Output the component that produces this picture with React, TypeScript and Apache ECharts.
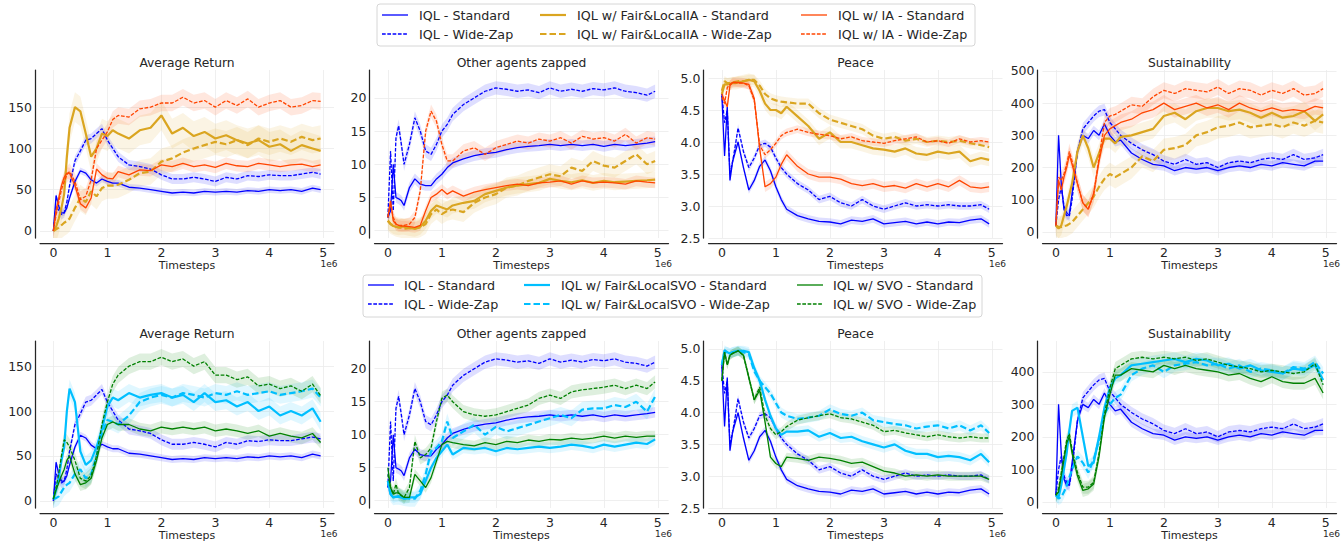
import React, { useEffect, useRef } from "react";
import * as echarts from "echarts";

// ---------- data (timesteps in units of 1e6) ----------
const TIMESTEPS = [0, 0.05, 0.1, 0.15, 0.2, 0.25, 0.3, 0.4, 0.5, 0.6, 0.7, 0.8, 0.9, 1.0, 1.1, 1.2, 1.4, 1.6, 1.8, 2.0, 2.2, 2.4, 2.6, 2.8, 3.0, 3.2, 3.4, 3.6, 3.8, 4.0, 4.2, 4.4, 4.6, 4.8, 4.95];
const X_TICKS = [0, 1, 2, 3, 4, 5];

// Average Return
const returnIqlStd = [0, 43, 30, 22, 22, 28, 40, 60, 73, 70, 62, 58, 63, 60, 58, 58, 53, 52, 50, 48, 46, 47, 46, 48, 47, 48, 47, 49, 48, 50, 49, 50, 48, 52, 50];
const returnIqlWz = [0, 30, 25, 20, 22, 35, 55, 85, 97, 110, 112, 118, 124, 110, 100, 90, 80, 78, 75, 68, 63, 63, 65, 63, 60, 65, 63, 67, 66, 68, 67, 67, 69, 71, 69];
const returnFairIaStd = [0, 5, 15, 28, 45, 90, 125, 150, 145, 118, 90, 100, 118, 115, 122, 118, 112, 122, 125, 140, 118, 125, 115, 120, 112, 116, 110, 106, 110, 102, 105, 97, 104, 100, 97];
const returnFairIaWz = [0, 2, 4, 7, 10, 12, 15, 28, 40, 35, 48, 42, 52, 55, 55, 56, 62, 70, 72, 84, 88, 95, 100, 104, 108, 105, 110, 104, 112, 108, 112, 108, 114, 110, 112];
const returnIaStd = [0, 25, 40, 55, 65, 70, 70, 55, 33, 28, 40, 75, 68, 64, 63, 72, 68, 74, 73, 80, 78, 82, 78, 80, 77, 82, 79, 78, 82, 80, 78, 80, 81, 78, 80];
const returnIaWz = [0, 20, 35, 50, 60, 68, 72, 60, 38, 42, 62, 100, 110, 120, 135, 140, 138, 148, 150, 155, 155, 162, 155, 158, 150, 158, 152, 160, 150, 155, 158, 150, 152, 158, 157];
const returnFairSvoStd = [2, 12, 25, 45, 60, 100, 125, 110, 55, 40, 45, 60, 80, 105, 115, 112, 120, 115, 118, 120, 115, 118, 110, 120, 110, 112, 105, 110, 100, 105, 95, 100, 95, 103, 88];
const returnFairSvoWz = [2, 3, 5, 10, 15, 18, 20, 30, 35, 25, 30, 50, 75, 90, 88, 85, 95, 110, 115, 118, 115, 120, 118, 115, 120, 118, 122, 118, 120, 122, 118, 120, 122, 125, 115];
const returnSvoStd = [2, 12, 20, 28, 35, 45, 50, 30, 18, 20, 25, 45, 70, 85, 88, 85, 85, 80, 78, 82, 80, 82, 80, 82, 78, 80, 78, 75, 78, 72, 75, 72, 70, 75, 65];
const returnSvoWz = [2, 15, 30, 50, 68, 65, 60, 45, 25, 22, 28, 50, 85, 110, 130, 140, 150, 155, 155, 160, 155, 158, 150, 155, 140, 140, 135, 138, 128, 130, 125, 128, 122, 130, 117];

// Other agents zapped
const zapIqlStd = [2, 3, 10, 5, 4.8, 4.5, 3.8, 6.5, 7.8, 7.0, 6.8, 6.8, 7.8, 8.5, 9.5, 10.2, 10.8, 11.3, 11.6, 11.8, 12.2, 12.5, 12.7, 12.8, 13.0, 12.8, 13.0, 12.8, 13.0, 12.7, 13.0, 12.8, 13.0, 13.2, 13.4];
const zapIqlWz = [2, 12, 3, 14, 15.8, 13, 10, 13, 17, 15, 12, 11.5, 13, 15, 16, 17.5, 19, 20, 21, 21.5, 21.3, 21.0, 21.2, 20.8, 21.5, 21.0, 21.3, 21.0, 21.4, 21.2, 21.5, 21.0, 20.8, 20.4, 21.0];
const zapFairIaStd = [1.5, 1.0, 0.7, 0.6, 0.5, 0.6, 0.6, 0.4, 0.3, 0.6, 1.5, 3.0, 3.8, 3.5, 3.2, 3.8, 4.2, 4.5, 5.5, 6.0, 6.5, 6.8, 7.0, 7.2, 7.8, 7.5, 7.3, 7.6, 7.2, 7.5, 7.3, 7.4, 7.5, 7.6, 7.7];
const zapFairIaWz = [1.5, 1.0, 0.8, 0.6, 0.5, 0.4, 0.3, 0.4, 0.3, 0.5, 1.0, 2.5, 3.2, 2.5, 3.0, 3.2, 2.8, 4.2, 5.0, 5.5, 6.5, 6.8, 7.5, 8.0, 8.5, 8.2, 9.5, 9.0, 10.5, 9.8, 9.5, 10.5, 11.5, 10.0, 10.5];
const zapIaStd = [2, 4.5, 1.5, 1.0, 0.8, 0.7, 0.7, 0.6, 0.5, 0.8, 3.0, 5.0, 5.5, 6.2, 5.5, 6.0, 5.2, 5.8, 6.2, 6.5, 6.8, 7.0, 6.8, 7.2, 7.3, 7.5, 7.0, 7.5, 7.2, 7.3, 7.2, 7.0, 7.5, 7.3, 7.2];
const zapIaWz = [2, 4, 2, 1.0, 0.8, 0.8, 0.8, 1.0, 2.0, 6.0, 15, 18, 16.5, 13, 10.5, 10.5, 12, 12.5, 11.5, 12.5, 13, 13.5, 13.2, 13.8, 13.5, 14, 13.2, 14.2, 13.8, 14, 13.5, 14.5, 13.2, 14.0, 13.8];
const zapFairSvoStd = [3, 1.0, 0.5, 0.6, 0.7, 0.5, 0.3, 0.5, 0.5, 1.0, 3.0, 5.0, 6.5, 7.5, 8.5, 7.0, 8.0, 7.8, 8.0, 7.5, 8.0, 7.8, 8.0, 8.2, 8.0, 8.2, 8.5, 8.3, 8.0, 8.5, 8.2, 8.5, 8.8, 8.6, 9.3];
const zapFairSvoWz = [3, 1.0, 0.5, 0.6, 0.6, 0.5, 0.4, 0.3, 0.3, 1.5, 4.0, 7.5, 8.0, 9.0, 12, 9.5, 10.5, 11.5, 10.0, 11.2, 10.5, 11.0, 11.5, 12.0, 12.5, 13.0, 12.5, 13.8, 14.0, 14.0, 14.5, 14.2, 15.0, 13.5, 15.8];
const zapSvoStd = [5, 2, 1.0, 1.2, 1.2, 0.8, 0.5, 0.5, 4.0, 3.0, 2.0, 3.5, 6.0, 8.5, 9.0, 8.8, 8.5, 8.3, 8.8, 8.5, 9.0, 8.8, 9.2, 9.0, 9.3, 9.2, 9.5, 9.3, 9.5, 9.8, 9.5, 9.8, 9.6, 9.8, 9.8];
const zapSvoWz = [4, 2, 1.0, 2.5, 1.0, 0.8, 0.5, 2.0, 9.0, 6.5, 7.0, 8.0, 12, 15.5, 16, 15, 13.5, 13, 12.8, 13, 13.5, 14, 14.5, 15.5, 16, 15.5, 16.5, 16.8, 17, 17.2, 17.5, 17, 17.5, 17, 18];

// Peace
const peaceIqlStd = [4.72, 3.78, 4.55, 3.4, 3.7, 3.85, 4.0, 3.6, 3.25, 3.4, 3.62, 3.72, 3.55, 3.3, 3.1, 2.95, 2.85, 2.8, 2.76, 2.75, 2.72, 2.78, 2.76, 2.8, 2.72, 2.74, 2.76, 2.72, 2.75, 2.72, 2.75, 2.74, 2.78, 2.8, 2.72];
const peaceIqlWz = [4.75, 4.3, 4.5, 3.5, 3.7, 3.95, 4.22, 3.85, 3.6, 3.75, 3.95, 3.98, 3.92, 3.75, 3.6, 3.5, 3.35, 3.25, 3.1, 3.15, 3.05, 3.0, 3.1, 3.0, 2.95, 3.0, 3.05, 3.0, 3.02, 3.0, 3.02, 3.0, 3.0, 3.02, 2.95];
const peaceFairIaStd = [4.75, 4.9, 4.9, 4.91, 4.92, 4.92, 4.93, 4.95, 4.97, 4.95, 4.8, 4.6, 4.5, 4.5, 4.45, 4.55, 4.4, 4.25, 4.05, 4.15, 4.0, 4.0, 3.95, 3.9, 3.88, 3.85, 3.9, 3.82, 3.8, 3.85, 3.82, 3.85, 3.7, 3.75, 3.72];
const peaceFairIaWz = [4.8, 4.95, 4.92, 4.92, 4.93, 4.94, 4.95, 4.95, 4.97, 4.97, 4.88, 4.75, 4.68, 4.65, 4.63, 4.62, 4.6, 4.6, 4.45, 4.35, 4.3, 4.25, 4.2, 4.1, 4.05, 4.08, 4.02, 4.05, 4.0, 4.02, 4.0, 4.02, 3.98, 3.95, 3.92];
const peaceIaStd = [4.75, 4.65, 4.55, 4.88, 4.93, 4.93, 4.93, 4.92, 4.9, 4.68, 3.9, 3.3, 3.35, 3.45, 3.65, 3.8, 3.62, 3.5, 3.45, 3.45, 3.42, 3.35, 3.32, 3.35, 3.3, 3.32, 3.28, 3.35, 3.3, 3.35, 3.3, 3.4, 3.3, 3.28, 3.3];
const peaceIaWz = [4.7, 4.6, 4.85, 4.9, 4.93, 4.93, 4.92, 4.92, 4.88, 4.65, 3.95, 3.8, 3.88, 3.98, 4.1, 4.15, 4.2, 4.15, 4.12, 4.1, 4.05, 4.08, 4.02, 4.0, 3.98, 4.02, 4.05, 4.08, 4.0, 4.02, 3.98, 4.05, 4.0, 4.02, 4.0];
const peaceFairSvoStd = [4.75, 4.98, 4.95, 4.93, 4.95, 4.96, 4.97, 4.97, 4.95, 4.7, 4.5, 4.2, 3.95, 3.75, 3.65, 3.7, 3.7, 3.72, 3.62, 3.68, 3.6, 3.62, 3.55, 3.5, 3.45, 3.5, 3.4, 3.35, 3.35, 3.3, 3.32, 3.3, 3.25, 3.35, 3.22];
const peaceFairSvoWz = [4.75, 4.95, 4.95, 4.93, 4.95, 4.96, 4.97, 4.95, 4.92, 4.65, 4.5, 4.4, 4.3, 4.15, 4.0, 3.95, 3.9, 3.92, 3.95, 4.05, 3.98, 3.95, 4.0, 3.88, 3.85, 3.82, 3.8, 3.75, 3.78, 3.8, 3.75, 3.8, 3.72, 3.8, 3.68];
const peaceSvoStd = [4.5, 4.95, 4.75, 4.9, 4.93, 4.95, 4.97, 4.9, 4.55, 4.2, 4.35, 3.85, 3.3, 3.2, 3.15, 3.3, 3.28, 3.25, 3.3, 3.28, 3.25, 3.2, 3.22, 3.15, 3.08, 3.05, 3.0, 3.02, 3.0, 3.02, 3.0, 3.0, 3.0, 3.0, 2.95];
const peaceSvoWz = [4.5, 4.95, 4.75, 4.9, 4.93, 4.95, 4.97, 4.9, 4.55, 4.2, 4.4, 3.95, 3.75, 3.65, 3.7, 3.78, 3.88, 3.92, 3.95, 3.98, 3.92, 3.9, 3.85, 3.8, 3.7, 3.72, 3.68, 3.65, 3.62, 3.65, 3.62, 3.6, 3.62, 3.6, 3.6];

// Sustainability
const susIqlStd = [20, 300, 150, 70, 50, 55, 120, 250, 300, 290, 315, 300, 335, 300, 280, 285, 245, 225, 210, 205, 190, 200, 195, 200, 190, 200, 205, 200, 210, 205, 215, 210, 205, 220, 220];
const susIqlWz = [20, 100, 140, 80, 60, 50, 100, 250, 320, 340, 360, 375, 380, 340, 320, 300, 275, 255, 240, 220, 210, 225, 210, 215, 200, 215, 220, 215, 225, 230, 225, 240, 225, 230, 240];
const susFairIaStd = [20, 10, 20, 50, 80, 115, 150, 250, 300, 260, 200, 245, 290, 290, 275, 295, 300, 310, 320, 360, 370, 350, 375, 385, 385, 375, 380, 370, 355, 370, 355, 360, 375, 345, 365];
const susFairIaWz = [20, 15, 15, 18, 20, 25, 30, 50, 70, 90, 110, 140, 165, 180, 170, 180, 200, 235, 220, 255, 260, 270, 300, 310, 325, 330, 340, 325, 330, 335, 325, 340, 330, 345, 340];
const susIaStd = [20, 160, 130, 170, 200, 240, 210, 150, 90, 70, 120, 220, 300, 320, 330, 340, 350, 370, 380, 400, 380, 390, 400, 385, 395, 380, 400, 385, 375, 385, 375, 380, 375, 390, 385];
const susIaWz = [20, 170, 160, 180, 210, 250, 220, 150, 90, 72, 115, 230, 340, 360, 365, 375, 395, 390, 420, 440, 430, 445, 440, 435, 450, 430, 445, 440, 425, 440, 430, 445, 425, 430, 445];
const susFairSvoStd = [20, 15, 50, 100, 150, 220, 280, 290, 200, 110, 120, 200, 290, 350, 380, 390, 420, 425, 430, 435, 440, 430, 440, 435, 420, 425, 410, 420, 405, 400, 395, 410, 405, 420, 375];
const susFairSvoWz = [20, 10, 15, 30, 50, 75, 100, 140, 120, 90, 130, 190, 270, 300, 320, 330, 390, 410, 420, 400, 420, 425, 430, 420, 425, 410, 420, 400, 410, 405, 395, 415, 410, 430, 395];
const susSvoStd = [20, 30, 80, 130, 180, 200, 150, 80, 35, 40, 55, 140, 260, 330, 390, 390, 410, 405, 400, 420, 410, 420, 410, 405, 400, 390, 395, 380, 370, 385, 370, 365, 365, 380, 335];
const susSvoWz = [20, 40, 90, 140, 190, 210, 160, 90, 45, 45, 60, 150, 270, 350, 410, 420, 440, 445, 440, 445, 440, 445, 435, 440, 430, 420, 415, 410, 400, 405, 400, 395, 400, 425, 360];

// half-width of the shaded bands (spread across seeds)
const returnSpread = { iqlStd: 4, iqlWz: 6, fairIaStd: 18, fairIaWz: 16, iaStd: 7, iaWz: 10, fairSvoStd: 10, fairSvoWz: 10, svoStd: 7, svoWz: 9 };
const zapSpread = { iqlStd: 0.8, iqlWz: 1.0, fairIaStd: 1.2, fairIaWz: 1.5, iaStd: 0.8, iaWz: 1.0, fairSvoStd: 0.8, fairSvoWz: 1.2, svoStd: 0.8, svoWz: 1.0 };
const peaceSpread = { iqlStd: 0.06, iqlWz: 0.06, fairIaStd: 0.1, fairIaWz: 0.08, iaStd: 0.08, iaWz: 0.06, fairSvoStd: 0.08, fairSvoWz: 0.08, svoStd: 0.07, svoWz: 0.07 };
const susSpread = { iqlStd: 15, iqlWz: 18, fairIaStd: 30, fairIaWz: 35, iaStd: 25, iaWz: 25, fairSvoStd: 20, fairSvoWz: 20, svoStd: 20, svoWz: 20 };

const returnTicks = [0, 50, 100, 150];
const zapTicks = [0, 5, 10, 15, 20];
const peaceTicks = [2.5, 3.0, 3.5, 4.0, 4.5, 5.0];
const susTicksTop = [0, 100, 200, 300, 400, 500];
const susTicksBottom = [0, 100, 200, 300, 400];

const LABELS: Record<string, string> = {
  iqlStd: "IQL - Standard",
  iqlWz: "IQL - Wide-Zap",
  fairIaStd: "IQL w/ Fair&LocalIA - Standard",
  fairIaWz: "IQL w/ Fair&LocalIA - Wide-Zap",
  iaStd: "IQL w/ IA - Standard",
  iaWz: "IQL w/ IA - Wide-Zap",
  fairSvoStd: "IQL w/ Fair&LocalSVO - Standard",
  fairSvoWz: "IQL w/ Fair&LocalSVO - Wide-Zap",
  svoStd: "IQL w/ SVO - Standard",
  svoWz: "IQL w/ SVO - Wide-Zap",
};

// ---------- styles ----------
const FONT = "DejaVu Sans";
const INK = "#262626";
const THIN = 1.3;
const THICK = 2.2;
const SHORT_DASH = [3.7, 1.6];
const LONG_DASH = [6.5, 3];
const STYLES: Record<string, { color: string; width: number; dash: number[] | null }> = {
  iqlStd: { color: "#0000ff", width: THIN, dash: null },
  iqlWz: { color: "#0000ff", width: THIN, dash: SHORT_DASH },
  fairIaStd: { color: "#daa520", width: THICK, dash: null },
  fairIaWz: { color: "#daa520", width: THICK, dash: LONG_DASH },
  iaStd: { color: "#ff4500", width: THIN, dash: null },
  iaWz: { color: "#ff4500", width: THIN, dash: SHORT_DASH },
  fairSvoStd: { color: "#00bfff", width: THICK, dash: null },
  fairSvoWz: { color: "#00bfff", width: THICK, dash: LONG_DASH },
  svoStd: { color: "#008000", width: THIN, dash: null },
  svoWz: { color: "#008000", width: THIN, dash: SHORT_DASH },
};

const TOP_KEYS = ["iqlStd", "iqlWz", "fairIaStd", "fairIaWz", "iaStd", "iaWz"];
const BOTTOM_KEYS = ["iqlStd", "iqlWz", "fairSvoStd", "fairSvoWz", "svoStd", "svoWz"];

const METRICS = [
  {
    title: "Average Return",
    spread: returnSpread,
    data: { iqlStd: returnIqlStd, iqlWz: returnIqlWz, fairIaStd: returnFairIaStd, fairIaWz: returnFairIaWz, iaStd: returnIaStd, iaWz: returnIaWz, fairSvoStd: returnFairSvoStd, fairSvoWz: returnFairSvoWz, svoStd: returnSvoStd, svoWz: returnSvoWz } as Record<string, number[]>,
  },
  {
    title: "Other agents zapped",
    spread: zapSpread,
    data: { iqlStd: zapIqlStd, iqlWz: zapIqlWz, fairIaStd: zapFairIaStd, fairIaWz: zapFairIaWz, iaStd: zapIaStd, iaWz: zapIaWz, fairSvoStd: zapFairSvoStd, fairSvoWz: zapFairSvoWz, svoStd: zapSvoStd, svoWz: zapSvoWz } as Record<string, number[]>,
  },
  {
    title: "Peace",
    spread: peaceSpread,
    data: { iqlStd: peaceIqlStd, iqlWz: peaceIqlWz, fairIaStd: peaceFairIaStd, fairIaWz: peaceFairIaWz, iaStd: peaceIaStd, iaWz: peaceIaWz, fairSvoStd: peaceFairSvoStd, fairSvoWz: peaceFairSvoWz, svoStd: peaceSvoStd, svoWz: peaceSvoWz } as Record<string, number[]>,
  },
  {
    title: "Sustainability",
    spread: susSpread,
    data: { iqlStd: susIqlStd, iqlWz: susIqlWz, fairIaStd: susFairIaStd, fairIaWz: susFairIaWz, iaStd: susIaStd, iaWz: susIaWz, fairSvoStd: susFairSvoStd, fairSvoWz: susFairSvoWz, svoStd: susSvoStd, svoWz: susSvoWz } as Record<string, number[]>,
  },
];

// ---------- layout ----------
const GRID_LEFTS = [40, 374.5, 708.5, 1042.5];
const GRID_W = 294;
const ROWS = [
  { top: 70, height: 168, keys: TOP_KEYS, yRanges: [[-8.5, 195], [-1.1, 24.2], [2.5, 5.125], [-19, 503]], yTicks: [returnTicks, zapTicks, peaceTicks, susTicksTop] },
  { top: 341, height: 167, keys: BOTTOM_KEYS, yRanges: [[-8, 178], [-1.1, 24.2], [2.5, 5.125], [-19, 495]], yTicks: [returnTicks, zapTicks, peaceTicks, susTicksBottom] },
];
const X_MIN = -0.2475;
const X_MAX = 5.1975;

const LEGENDS = [
  {
    box: [377, 4, 598, 42],
    rows: [15, 34],
    cols: [[382, 408, 419], [540, 566, 577], [801, 827, 838]],
    keys: [["iqlStd", "iqlWz"], ["fairIaStd", "fairIaWz"], ["iaStd", "iaWz"]],
  },
  {
    box: [363, 275, 619, 42],
    rows: [285, 304],
    cols: [[368, 394, 404], [524, 550, 561], [797, 823, 833]],
    keys: [["iqlStd", "iqlWz"], ["fairSvoStd", "fairSvoWz"], ["svoStd", "svoWz"]],
  },
];

function buildOption() {
  const grid: any[] = [];
  const xAxis: any[] = [];
  const yAxis: any[] = [];
  const series: any[] = [];
  const graphic: any[] = [];

  ROWS.forEach((row, r) => {
    METRICS.forEach((metric, c) => {
      const idx = r * 4 + c;
      const left = GRID_LEFTS[c];
      grid.push({ left, top: row.top, width: GRID_W, height: row.height, containLabel: false });
      xAxis.push({
        gridIndex: idx,
        type: "value",
        min: X_MIN,
        max: X_MAX,
        offset: 5,
        axisLine: { show: true, onZero: false, lineStyle: { color: INK, width: 1.25 } },
        axisTick: { show: false, customValues: X_TICKS },
        axisLabel: { customValues: X_TICKS, color: INK, fontSize: 12.5, fontFamily: FONT, margin: 3 },
        splitLine: { show: true, lineStyle: { color: "#ebebeb", width: 0.8 } },
        name: "Timesteps",
        nameLocation: "middle",
        nameGap: 16,
        nameTextStyle: { color: INK, fontSize: 11, fontFamily: FONT },
      });
      const ticks = row.yTicks[c];
      const isPeace = c === 2;
      yAxis.push({
        gridIndex: idx,
        type: "value",
        min: row.yRanges[c][0],
        max: row.yRanges[c][1],
        offset: 5,
        axisLine: { show: true, onZero: false, lineStyle: { color: INK, width: 1.25 } },
        axisTick: { show: false, customValues: ticks },
        axisLabel: {
          customValues: ticks,
          color: INK,
          fontSize: 12.5,
          fontFamily: FONT,
          margin: 3,
          formatter: (v: number) => (isPeace ? v.toFixed(1) : String(v)),
        },
        splitLine: { show: true, lineStyle: { color: "#ebebeb", width: 0.8 } },
      });

      // bands
      row.keys.forEach((key) => {
        const vals = metric.data[key];
        const s = (metric.spread as any)[key] as number;
        const st = STYLES[key];
        series.push({
          type: "custom",
          coordinateSystem: "cartesian2d",
          xAxisIndex: idx,
          yAxisIndex: idx,
          clip: true,
          silent: true,
          z: 1,
          data: [[TIMESTEPS[0], vals[0]]],
          renderItem: (params: any, api: any) => {
            const up = vals.map((v, i) => api.coord([TIMESTEPS[i], v + s]));
            const lo = vals.map((v, i) => api.coord([TIMESTEPS[i], v - s])).reverse();
            return {
              type: "polygon",
              shape: { points: up.concat(lo) },
              style: { fill: st.color, opacity: key.startsWith("fair") ? 0.12 : 0.13 },
            };
          },
        });
      });
      // lines
      row.keys.forEach((key) => {
        const vals = metric.data[key];
        const st = STYLES[key];
        series.push({
          type: "line",
          name: LABELS[key],
          xAxisIndex: idx,
          yAxisIndex: idx,
          data: TIMESTEPS.map((t, i) => [t, vals[i]]),
          showSymbol: false,
          symbol: "none",
          silent: true,
          z: 3,
          lineStyle: { color: st.color, width: st.width, type: st.dash ? st.dash : "solid" },
          emphasis: { disabled: true },
        });
      });

      // title and exponent
      graphic.push({
        type: "text",
        x: left + GRID_W / 2,
        y: row.top - 7,
        style: { text: metric.title, fill: INK, font: `12.3px "${FONT}"`, textAlign: "center", textVerticalAlign: "middle" },
      });
      graphic.push({
        type: "text",
        x: left + 289,
        y: row.top + row.height + 26,
        style: { text: "1e6", fill: INK, font: `9px "${FONT}"`, textAlign: "center", textVerticalAlign: "middle" },
      });
    });
  });

  // legends
  LEGENDS.forEach((lg) => {
    graphic.push({
      type: "rect",
      shape: { x: lg.box[0], y: lg.box[1], width: lg.box[2], height: lg.box[3], r: 3 },
      style: { fill: "#ffffff", stroke: "#d6d6d6", lineWidth: 1 },
      z: 10,
    });
    lg.cols.forEach((col, ci) => {
      lg.keys[ci].forEach((key, ri) => {
        const y = lg.rows[ri];
        const st = STYLES[key];
        graphic.push({
          type: "line",
          shape: { x1: col[0], y1: y, x2: col[1], y2: y },
          style: { stroke: st.color, lineWidth: st.width, lineDash: st.dash || undefined },
          z: 11,
        });
        graphic.push({
          type: "text",
          x: col[2],
          y,
          style: { text: LABELS[key], fill: INK, font: `12.7px "${FONT}"`, textAlign: "left", textVerticalAlign: "middle" },
          z: 11,
        });
      });
    });
  });

  return {
    animation: false,
    backgroundColor: "#ffffff",
    grid,
    xAxis,
    yAxis,
    series,
    graphic,
  };
}

export default function App() {
  const ref = useRef<HTMLDivElement>(null);
  useEffect(() => {
    if (!ref.current) return;
    const chart = echarts.init(ref.current, undefined, { renderer: "svg" });
    chart.setOption(buildOption() as any);
    return () => chart.dispose();
  }, []);
  return (
    <div
      ref={ref}
      style={{ position: "fixed", left: 0, top: 0, width: 1343, height: 544, background: "#ffffff" }}
    />
  );
}
